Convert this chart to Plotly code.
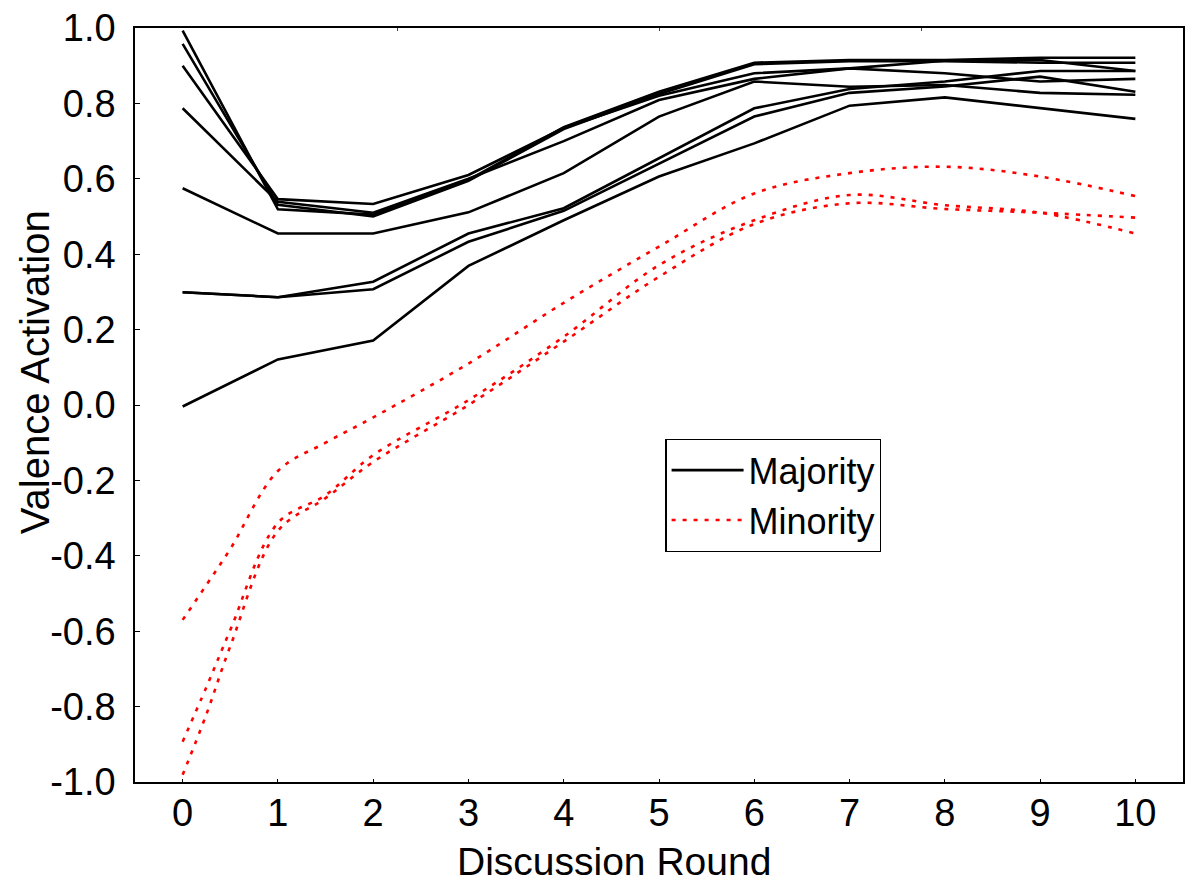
import plotly.graph_objects as go

rounds = [0, 1, 2, 3, 4, 5, 6, 7, 8, 9, 10]

majority = [
    [0.993, 0.519, 0.505, 0.597, 0.737, 0.831, 0.908, 0.915, 0.915, 0.921, 0.921],
    [0.958, 0.531, 0.500, 0.595, 0.732, 0.825, 0.904, 0.912, 0.912, 0.908, 0.908],
    [0.900, 0.546, 0.533, 0.610, 0.735, 0.820, 0.880, 0.893, 0.913, 0.915, 0.886],
    [0.787, 0.539, 0.510, 0.600, 0.700, 0.809, 0.865, 0.893, 0.880, 0.858, 0.865],
    [0.575, 0.455, 0.455, 0.511, 0.615, 0.765, 0.858, 0.844, 0.849, 0.828, 0.823],
    [0.299, 0.286, 0.327, 0.455, 0.522, 0.654, 0.787, 0.838, 0.858, 0.886, 0.886],
    [0.299, 0.286, 0.307, 0.433, 0.515, 0.641, 0.765, 0.828, 0.845, 0.871, 0.831],
    [-0.004, 0.121, 0.171, 0.369, 0.490, 0.606, 0.694, 0.794, 0.816, 0.787, 0.759],
]

minority_x = [0, 0.25, 0.5, 1, 1.5, 2, 3, 4, 5, 6, 7, 8, 9, 10]
minority = [
    [-0.570, -0.477, -0.382, -0.175, -0.100, -0.033, 0.110, 0.271, 0.420, 0.561, 0.615, 0.632, 0.606, 0.554],
    [-0.893, -0.748, -0.597, -0.313, -0.239, -0.133, 0.013, 0.181, 0.371, 0.490, 0.557, 0.530, 0.510, 0.455],
    [-0.981, -0.820, -0.640, -0.334, -0.247, -0.151, 0.000, 0.168, 0.340, 0.480, 0.535, 0.520, 0.510, 0.497],
]

x_ticks = list(range(0, 11))
y_ticks = [-1.0, -0.8, -0.6, -0.4, -0.2, 0.0, 0.2, 0.4, 0.6, 0.8, 1.0]
y_tick_text = ["%.1f" % v for v in y_ticks]

FONT = "Liberation Sans, Arial, sans-serif"
FS = 38

fig = go.Figure()
for i, ys in enumerate(majority):
    fig.add_trace(go.Scatter(
        x=rounds, y=ys, mode="lines",
        line=dict(color="black", width=2.6),
        name="Majority", legendgroup="maj", showlegend=(i == 0),
    ))
for i, ys in enumerate(minority):
    fig.add_trace(go.Scatter(
        x=minority_x, y=ys, mode="lines",
        line=dict(color="red", width=2.6, dash="4px,7px", shape="spline", smoothing=1.0),
        name="Minority", legendgroup="min", showlegend=(i == 0),
    ))
# invisible trace to carry the top quarter-tick axis
fig.add_trace(go.Scatter(x=[], y=[], xaxis="x2", yaxis="y", showlegend=False, hoverinfo="skip"))

fig.update_layout(
    width=1190, height=890,
    margin=dict(l=135, r=5, t=28, b=108),
    paper_bgcolor="white", plot_bgcolor="white",
    font=dict(family=FONT, size=FS, color="black"),
    showlegend=True,
    legend=dict(
        x=0.506, y=0.455, xanchor="left", yanchor="top",
        bordercolor="black", borderwidth=1.3, bgcolor="white",
        font=dict(family=FONT, size=36, color="black"),
        tracegroupgap=0, itemwidth=72,
    ),
    xaxis=dict(
        range=[-0.5, 10.5], tickmode="array", tickvals=x_ticks,
        ticks="inside", ticklen=3, tickcolor="black", tickwidth=1,
        showline=True, linecolor="black", linewidth=2, mirror=True,
        showgrid=False, zeroline=False,
        tickfont=dict(family=FONT, size=FS, color="black"),
        ticklabelstandoff=-4,
    ),
    xaxis2=dict(
        overlaying="x", side="top", range=[0, 4],
        tickmode="array", tickvals=[1, 2, 3], ticks="inside", ticklen=3,
        tickcolor="#444", showticklabels=False, showline=False,
        showgrid=False, zeroline=False,
    ),
    yaxis=dict(
        range=[-1.0, 1.0], tickmode="array", tickvals=y_ticks, ticktext=y_tick_text,
        ticks="inside", ticklen=5, tickcolor="black", tickwidth=1,
        showline=True, linecolor="black", linewidth=1.5, mirror=True,
        showgrid=False, zeroline=False,
        tickfont=dict(family=FONT, size=FS, color="black"),
        ticklabelstandoff=10,
    ),
    annotations=[
        dict(text="Discussion Round", xref="paper", yref="paper",
             x=(615 - 135) / 1050, y=-(862 - 782) / 754,
             xanchor="center", yanchor="middle", showarrow=False,
             font=dict(family=FONT, size=39, color="black")),
        dict(text="Valence Activation", xref="paper", yref="paper",
             x=-(135 - 35) / 1050, y=(782 - 372) / 754, textangle=-90,
             xanchor="center", yanchor="middle", showarrow=False,
             font=dict(family=FONT, size=40, color="black")),
    ],
)

fig.write_html("out.html")
